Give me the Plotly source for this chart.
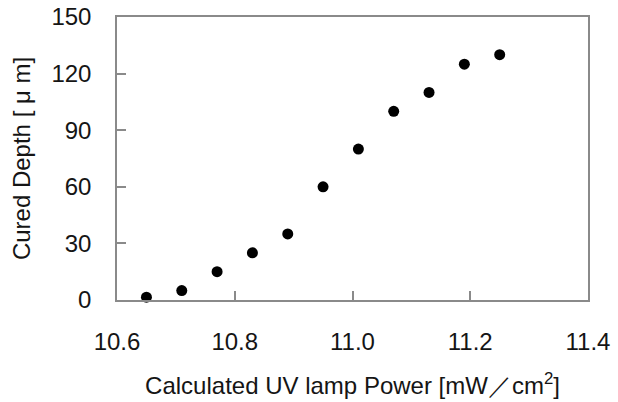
import plotly.graph_objects as go

power = [10.65, 10.71, 10.77, 10.83, 10.89, 10.95, 11.01, 11.07, 11.13, 11.19, 11.25]
depth = [1.5, 5, 15, 25, 35, 60, 80, 100, 110, 125, 130]
x_ticks = [10.6, 10.8, 11.0, 11.2, 11.4]
x_tick_text = ["10.6", "10.8", "11.0", "11.2", "11.4"]
y_ticks = [0, 30, 60, 90, 120, 150]

fig = go.Figure(go.Scatter(
    x=power, y=depth, mode="markers",
    marker=dict(size=11, color="black"),
    cliponaxis=False,
))

font_family = "Liberation Sans, Arial, sans-serif"
txt = "#151515"
axis_common = dict(
    showgrid=False, zeroline=False, showline=True, linecolor="#8a8a8a", linewidth=1.5,
    mirror=True, ticks="inside", ticklen=9, tickcolor="#8a8a8a", tickwidth=1.5,
    tickfont=dict(size=24, color=txt, family=font_family), automargin=False,
)

fig.update_layout(
    width=618, height=402,
    margin=dict(l=116.5, r=29.5, t=16.5, b=102),
    paper_bgcolor="white", plot_bgcolor="white",
    showlegend=False,
    font=dict(family=font_family, color=txt),
    xaxis=dict(
        range=[10.6, 11.4], tickvals=x_ticks, ticktext=x_tick_text,
        ticklabelstandoff=19,
        title=dict(text="Calculated UV lamp Power [mW／cm<sup>2</sup>]",
                   font=dict(size=24, color=txt, family=font_family), standoff=24),
        **axis_common,
    ),
    yaxis=dict(
        range=[0, 150], tickvals=y_ticks,
        ticklabelstandoff=19,
        title=dict(text="Cured Depth [ μ m]",
                   font=dict(size=24, color=txt, family=font_family), standoff=14),
        **axis_common,
    ),
)

fig.write_html("out.html", config={"displayModeBar": False},
               post_script="document.body.style.margin='0';")
